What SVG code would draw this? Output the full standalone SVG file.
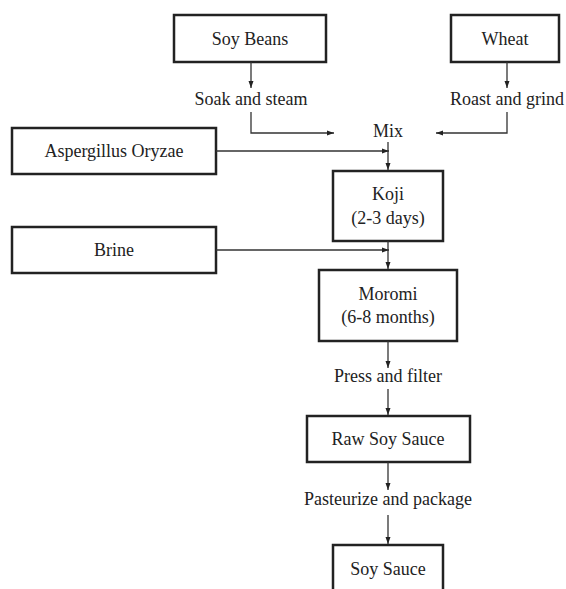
<svg xmlns="http://www.w3.org/2000/svg" width="566" height="589" viewBox="0 0 566 589">
<style>
.box{fill:#fff;stroke:#222;stroke-width:2.5}
.t{font-size:18px;fill:#222;text-anchor:middle}
.c{fill:none;stroke:#333;stroke-width:1.3}
</style>
<defs>
<marker id="ah" markerWidth="8" markerHeight="8" refX="7" refY="4" orient="auto" markerUnits="userSpaceOnUse">
<path d="M0,1.5 L7,4 L0,6.5 Z" fill="#222"/>
</marker>
</defs>
<rect width="566" height="589" fill="#fff"/>
<g font-family="'Liberation Serif', 'Times New Roman', 'DejaVu Serif', serif">
<g id="soybeans"><rect class="box" x="174" y="15" width="152" height="47"/><text class="t" font-family="'Liberation Serif', 'Times New Roman', 'DejaVu Serif', serif" x="250" y="45">Soy Beans</text></g>
<g id="wheat"><rect class="box" x="451" y="15" width="108" height="47"/><text class="t" font-family="'Liberation Serif', 'Times New Roman', 'DejaVu Serif', serif" x="505" y="45">Wheat</text></g>
<g id="soak"><text class="t" font-family="'Liberation Serif', 'Times New Roman', 'DejaVu Serif', serif" x="251" y="105">Soak and steam</text></g>
<g id="roast"><text class="t" font-family="'Liberation Serif', 'Times New Roman', 'DejaVu Serif', serif" x="507" y="105">Roast and grind</text></g>
<g id="mix"><text class="t" font-family="'Liberation Serif', 'Times New Roman', 'DejaVu Serif', serif" x="388" y="137">Mix</text></g>
<g id="aspergillus"><rect class="box" x="12" y="128" width="204" height="46"/><text class="t" font-family="'Liberation Serif', 'Times New Roman', 'DejaVu Serif', serif" x="114" y="157">Aspergillus Oryzae</text></g>
<g id="koji"><rect class="box" x="333" y="171" width="110" height="70"/><text class="t" font-family="'Liberation Serif', 'Times New Roman', 'DejaVu Serif', serif" x="388" y="200">Koji</text><text class="t" font-family="'Liberation Serif', 'Times New Roman', 'DejaVu Serif', serif" x="388" y="224">(2-3 days)</text></g>
<g id="brine"><rect class="box" x="12" y="227" width="204" height="46"/><text class="t" font-family="'Liberation Serif', 'Times New Roman', 'DejaVu Serif', serif" x="114" y="256">Brine</text></g>
<g id="moromi"><rect class="box" x="319" y="270" width="138" height="71"/><text class="t" font-family="'Liberation Serif', 'Times New Roman', 'DejaVu Serif', serif" x="388" y="300">Moromi</text><text class="t" font-family="'Liberation Serif', 'Times New Roman', 'DejaVu Serif', serif" x="388" y="323">(6-8 months)</text></g>
<g id="press"><text class="t" font-family="'Liberation Serif', 'Times New Roman', 'DejaVu Serif', serif" x="388" y="382">Press and filter</text></g>
<g id="rawsoysauce"><rect class="box" x="307" y="416" width="163" height="46"/><text class="t" font-family="'Liberation Serif', 'Times New Roman', 'DejaVu Serif', serif" x="388" y="445">Raw Soy Sauce</text></g>
<g id="pasteurize"><text class="t" font-family="'Liberation Serif', 'Times New Roman', 'DejaVu Serif', serif" x="388" y="505">Pasteurize and package</text></g>
<g id="soysauce"><rect class="box" x="333" y="545" width="110" height="50"/><text class="t" font-family="'Liberation Serif', 'Times New Roman', 'DejaVu Serif', serif" x="388" y="575">Soy Sauce</text></g>
</g>
<g id="connectors">
<path class="c" d="M251,62 V88" marker-end="url(#ah)"/>
<path class="c" d="M507,62 V88" marker-end="url(#ah)"/>
<path class="c" d="M251,112 V133 H334" marker-end="url(#ah)"/>
<path class="c" d="M507,112 V133 H436" marker-end="url(#ah)"/>
<path class="c" d="M216,151 H389" marker-end="url(#ah)"/>
<path class="c" d="M388,142 V170" marker-end="url(#ah)"/>
<path class="c" d="M216,250 H389" marker-end="url(#ah)"/>
<path class="c" d="M388,241 V269" marker-end="url(#ah)"/>
<path class="c" d="M388,341 V368" marker-end="url(#ah)"/>
<path class="c" d="M388,389 V415" marker-end="url(#ah)"/>
<path class="c" d="M388,462 V490" marker-end="url(#ah)"/>
<path class="c" d="M388,515 V544" marker-end="url(#ah)"/>
</g>
</svg>
